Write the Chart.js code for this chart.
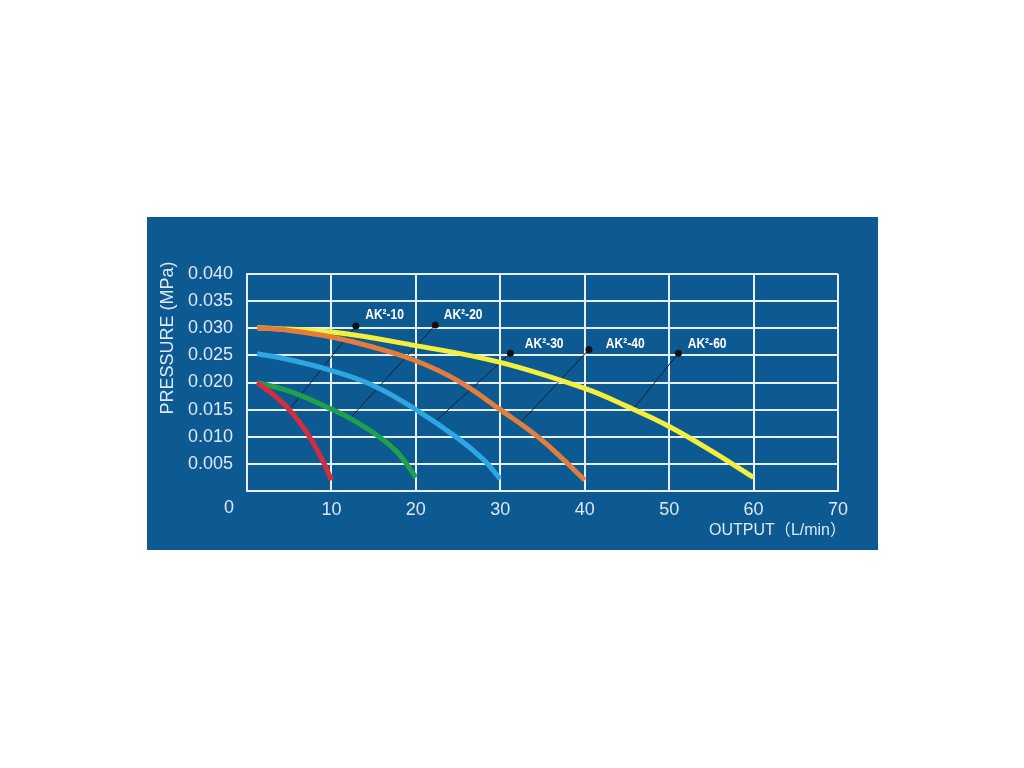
<!DOCTYPE html>
<html>
<head>
<meta charset="utf-8">
<script src="https://cdn.jsdelivr.net/npm/chart.js@4.4.1/dist/chart.umd.min.js"></script>
<style>
  html, body { margin: 0; padding: 0; background: #fff; }
  canvas { display: block; }
</style>
</head>
<body>
<canvas id="pumpChart" width="1024" height="768"></canvas>
<script>
// pump curves: pressure (MPa) against output (L/min)

const xTicks = [0, 10, 20, 30, 40, 50, 60, 70];
const yTicks = [0, 0.005, 0.01, 0.015, 0.02, 0.025, 0.03, 0.035, 0.04];

const ak10X = [1.2, 3, 5, 7, 9, 10];
const ak10Y = [0.020, 0.0179, 0.015, 0.011, 0.0055, 0.002];

const ak20X = [1.2, 5, 10, 13, 16, 18, 20];
const ak20Y = [0.020, 0.0184, 0.0151, 0.0127, 0.0096, 0.0068, 0.0025];

const ak30X = [1.2, 5, 10, 15, 20, 25, 28, 30];
const ak30Y = [0.0253, 0.0242, 0.0222, 0.0194, 0.015, 0.0097, 0.0058, 0.0022];

const ak40X = [1.2, 5, 10, 15, 20, 25, 30, 35, 40];
const ak40Y = [0.0301, 0.0296, 0.0284, 0.0265, 0.024, 0.0203, 0.015, 0.0093, 0.002];

const ak60X = [1.2, 10, 20, 30, 40, 45, 50, 55, 60];
const ak60Y = [0.0301, 0.0293, 0.0268, 0.0237, 0.0189, 0.0156, 0.0119, 0.0074, 0.0025];

// callouts: label text, text anchor, dot, and where the leader meets the curve
const labelNames = ["AK²-10", "AK²-20", "AK²-30", "AK²-40", "AK²-60"];
const labelTextX = [14.0, 23.3, 32.9, 42.5, 52.2];
const labelTextY = [0.0324, 0.0324, 0.0271, 0.0271, 0.0271];
const labelDotX = [12.9, 22.3, 31.2, 40.5, 51.1];
const labelDotY = [0.0304, 0.0306, 0.0254, 0.0261, 0.0254];
const leaderEndX = [5.0, 12.1, 22.3, 32.4, 45.7];
const leaderEndY = [0.015, 0.0132, 0.0128, 0.0126, 0.015];

const PANEL = "#0d5a93";
const TEXT = "#dce8f4";
const GRID = "#e6eef7";

function pts(xs, ys) {
  return xs.map((x, i) => ({ x, y: ys[i] }));
}

function curve(label, xs, ys, color, order) {
  return {
    label,
    data: pts(xs, ys),
    borderColor: color,
    borderWidth: 5,
    pointRadius: 0,
    tension: 0.4,
    borderCapStyle: "butt",
    order,
  };
}

const leaders = labelNames.map((name, i) => ({
  label: name + " leader",
  data: [
    { x: labelDotX[i], y: labelDotY[i] },
    { x: leaderEndX[i], y: leaderEndY[i] },
  ],
  borderColor: "#15202b",
  borderWidth: 1,
  pointRadius: [3.5, 0],
  pointBackgroundColor: "#111",
  pointBorderWidth: 0,
  order: 10,
}));

// panel background, axis titles, origin "0" and callout texts
const decorations = {
  id: "decorations",
  beforeDraw(chart) {
    const c = chart.ctx;
    c.save();
    c.fillStyle = "#fff";
    c.fillRect(0, 0, chart.width, chart.height);
    c.fillStyle = PANEL;
    c.fillRect(147, 217, 731, 333);
    c.restore();
  },
  afterDraw(chart) {
    const c = chart.ctx;
    const xs = chart.scales.x, ys = chart.scales.y;
    const area = chart.chartArea;
    c.save();
    c.fillStyle = TEXT;

    c.font = "18px 'Liberation Sans', Arial, sans-serif";
    c.textAlign = "center";
    c.textBaseline = "middle";
    c.fillText("0", area.left - 18, xs.top + 17);

    c.save();
    c.translate(168, 338);
    c.rotate(-Math.PI / 2);
    c.fillText("PRESSURE (MPa)", 0, 0);
    c.restore();

    c.font = "16px 'Liberation Sans', Arial, 'Noto Sans CJK SC', sans-serif";
    c.textAlign = "right";
    c.fillText("OUTPUT（L/min）", area.right + 8, 531);

    // condensed bold callouts
    c.fillStyle = "#ffffff";
    c.font = "bold 14px 'Liberation Sans', Arial, sans-serif";
    c.textAlign = "left";
    labelNames.forEach((name, i) => {
      c.save();
      c.translate(xs.getPixelForValue(labelTextX[i]), ys.getPixelForValue(labelTextY[i]));
      c.scale(0.86, 1);
      c.fillText(name, 0, 0);
      c.restore();
    });
    c.restore();
  },
};

new Chart(document.getElementById("pumpChart"), {
  type: "line",
  data: {
    datasets: [
      ...leaders,
      curve("AK²-60", ak60X, ak60Y, "#f3ef3c", 5),
      curve("AK²-40", ak40X, ak40Y, "#e27d3c", 4),
      curve("AK²-30", ak30X, ak30Y, "#2ea6e2", 3),
      curve("AK²-20", ak20X, ak20Y, "#21a04c", 2),
      curve("AK²-10", ak10X, ak10Y, "#d52d3d", 1),
    ],
  },
  options: {
    responsive: false,
    devicePixelRatio: 1,
    animation: false,
    layout: { padding: { left: 167, top: 274, right: 186, bottom: 237 } },
    plugins: {
      legend: { display: false },
      tooltip: { enabled: false },
    },
    scales: {
      x: {
        type: "linear",
        min: xTicks[0],
        max: xTicks[xTicks.length - 1],
        afterBuildTicks: (axis) => {
          axis.ticks = xTicks.map((v) => ({ value: v }));
        },
        afterFit: (axis) => {
          axis.height = 40;
        },
        grid: { color: GRID, lineWidth: 2, drawTicks: false },
        border: { color: GRID, width: 2 },
        ticks: {
          color: TEXT,
          padding: 8,
          font: { family: "'Liberation Sans', Arial, sans-serif", size: 18 },
          callback: (v) => (v === 0 ? "" : String(v)),
        },
      },
      y: {
        type: "linear",
        min: yTicks[0],
        max: yTicks[yTicks.length - 1],
        afterBuildTicks: (axis) => {
          axis.ticks = yTicks.map((v) => ({ value: v }));
        },
        afterFit: (axis) => {
          axis.width = 80;
        },
        grid: { color: GRID, lineWidth: 2, drawTicks: false },
        border: { color: GRID, width: 2 },
        ticks: {
          color: TEXT,
          padding: 14,
          font: { family: "'Liberation Sans', Arial, sans-serif", size: 18 },
          callback: (v) => (v === 0 ? "" : v.toFixed(3)),
        },
      },
    },
  },
  plugins: [decorations],
});
</script>
</body>
</html>
